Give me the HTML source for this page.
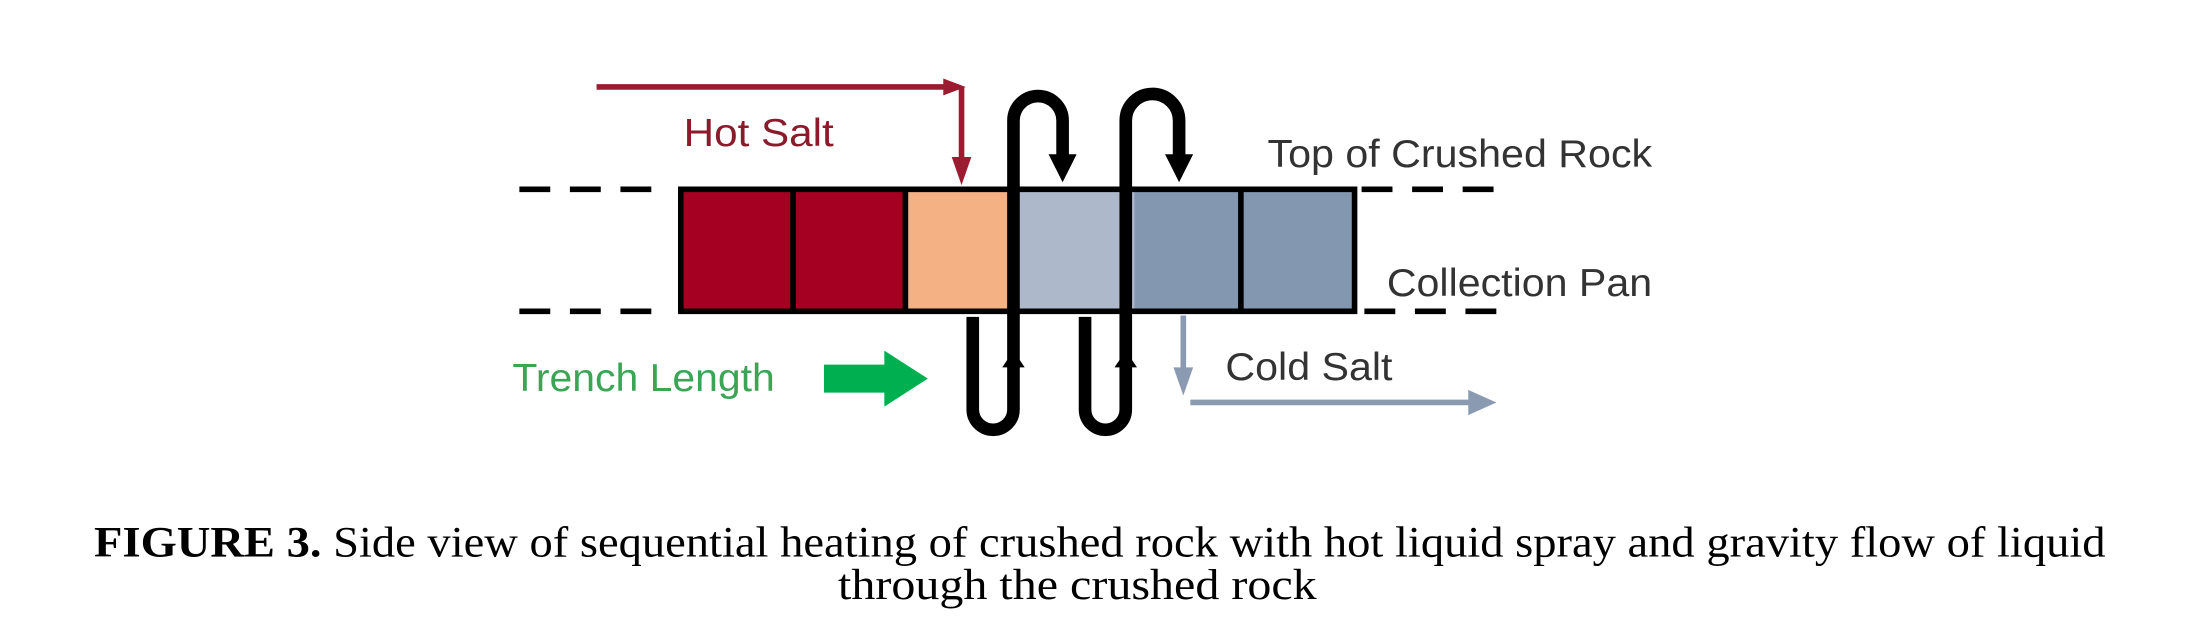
<!DOCTYPE html>
<html><head><style>html,body{margin:0;padding:0;background:#fff;}svg{display:block}</style></head>
<body>
<svg width="2201" height="617" viewBox="0 0 1568 440" preserveAspectRatio="none" xmlns="http://www.w3.org/2000/svg">
<rect width="1568" height="440" fill="#fff"/>
<g stroke="#000" stroke-width="4" stroke-dasharray="22,14">
<line x1="370" y1="135" x2="475" y2="135"/><line x1="970" y1="135" x2="1068" y2="135"/>
<line x1="370" y1="222" x2="475" y2="222"/><line x1="972" y1="222" x2="1068" y2="222"/>
</g>
<rect x="485" y="135" width="80" height="87" fill="#a50021"/>
<rect x="565" y="135" width="80" height="87" fill="#a50021"/>
<rect x="645" y="135" width="77" height="87" fill="#f4b183"/>
<rect x="722" y="135" width="86" height="87" fill="#adb9ca"/>
<rect x="808" y="135" width="76" height="87" fill="#8497b0"/>
<rect x="884" y="135" width="81" height="87" fill="#8497b0"/>
<g stroke="#000" stroke-width="4" fill="none">
<rect x="485" y="135" width="480" height="87"/>
<line x1="565" y1="135" x2="565" y2="222"/><line x1="645" y1="135" x2="645" y2="222"/>
<line x1="884" y1="135" x2="884" y2="222"/>
</g>
<g stroke="#9b1b30" stroke-width="4" fill="none">
<line x1="425" y1="62" x2="683" y2="62"/>
<line x1="685" y1="62" x2="685" y2="122"/>
</g>
<polygon points="672,56 688,62 672,68" fill="#9b1b30"/>
<polygon points="678,112 692,112 685,132" fill="#9b1b30"/>
<g font-family="Liberation Sans, sans-serif" font-size="28">
<text x="487" y="104" fill="#8b1a2b" textLength="107" lengthAdjust="spacingAndGlyphs">Hot Salt</text>
<text x="903" y="119" fill="#333" textLength="274" lengthAdjust="spacingAndGlyphs">Top of Crushed Rock</text>
<text x="988" y="211" fill="#333" textLength="189" lengthAdjust="spacingAndGlyphs">Collection Pan</text>
<text x="873" y="271" fill="#333" textLength="119" lengthAdjust="spacingAndGlyphs">Cold Salt</text>
<text x="365" y="279" fill="#3aa655" textLength="187" lengthAdjust="spacingAndGlyphs">Trench Length</text>
</g>
<g stroke="#000" stroke-width="9" fill="none">
<path d="M693 226 V292 A14.5 14.5 0 0 0 722 292 V86 A17.5 17.5 0 0 1 757 86 V112"/>
<path d="M773 226 V292 A14.5 14.5 0 0 0 802 292 V86 A19 19 0 0 1 840 86 V112"/>
</g>
<polygon points="747,110 767,110 757,130" fill="#000"/>
<polygon points="830,110 850,110 840,130" fill="#000"/>
<polygon points="714,262 730,262 722,250" fill="#000"/>
<polygon points="794,262 810,262 802,250" fill="#000"/>
<g stroke="#8a9ab0" stroke-width="4" fill="none">
<line x1="843" y1="225" x2="843" y2="268"/>
<line x1="848" y1="287" x2="1050" y2="287"/>
</g>
<polygon points="836,262 850,262 843,282" fill="#8a9ab0"/>
<polygon points="1046,278 1066,287 1046,296" fill="#8a9ab0"/>
<polygon points="587,260 630,260 630,250 661,270 630,290 630,280 587,280" fill="#00b050"/>
<g font-family="Liberation Serif, serif" font-size="31" fill="#000">
<text x="67" y="397" textLength="1433" lengthAdjust="spacingAndGlyphs"><tspan font-weight="bold">FIGURE 3.</tspan> Side view of sequential heating of crushed rock with hot liquid spray and gravity flow of liquid</text>
<text x="597" y="427" textLength="341" lengthAdjust="spacingAndGlyphs">through the crushed rock</text>
</g>
</svg>
</body></html>
